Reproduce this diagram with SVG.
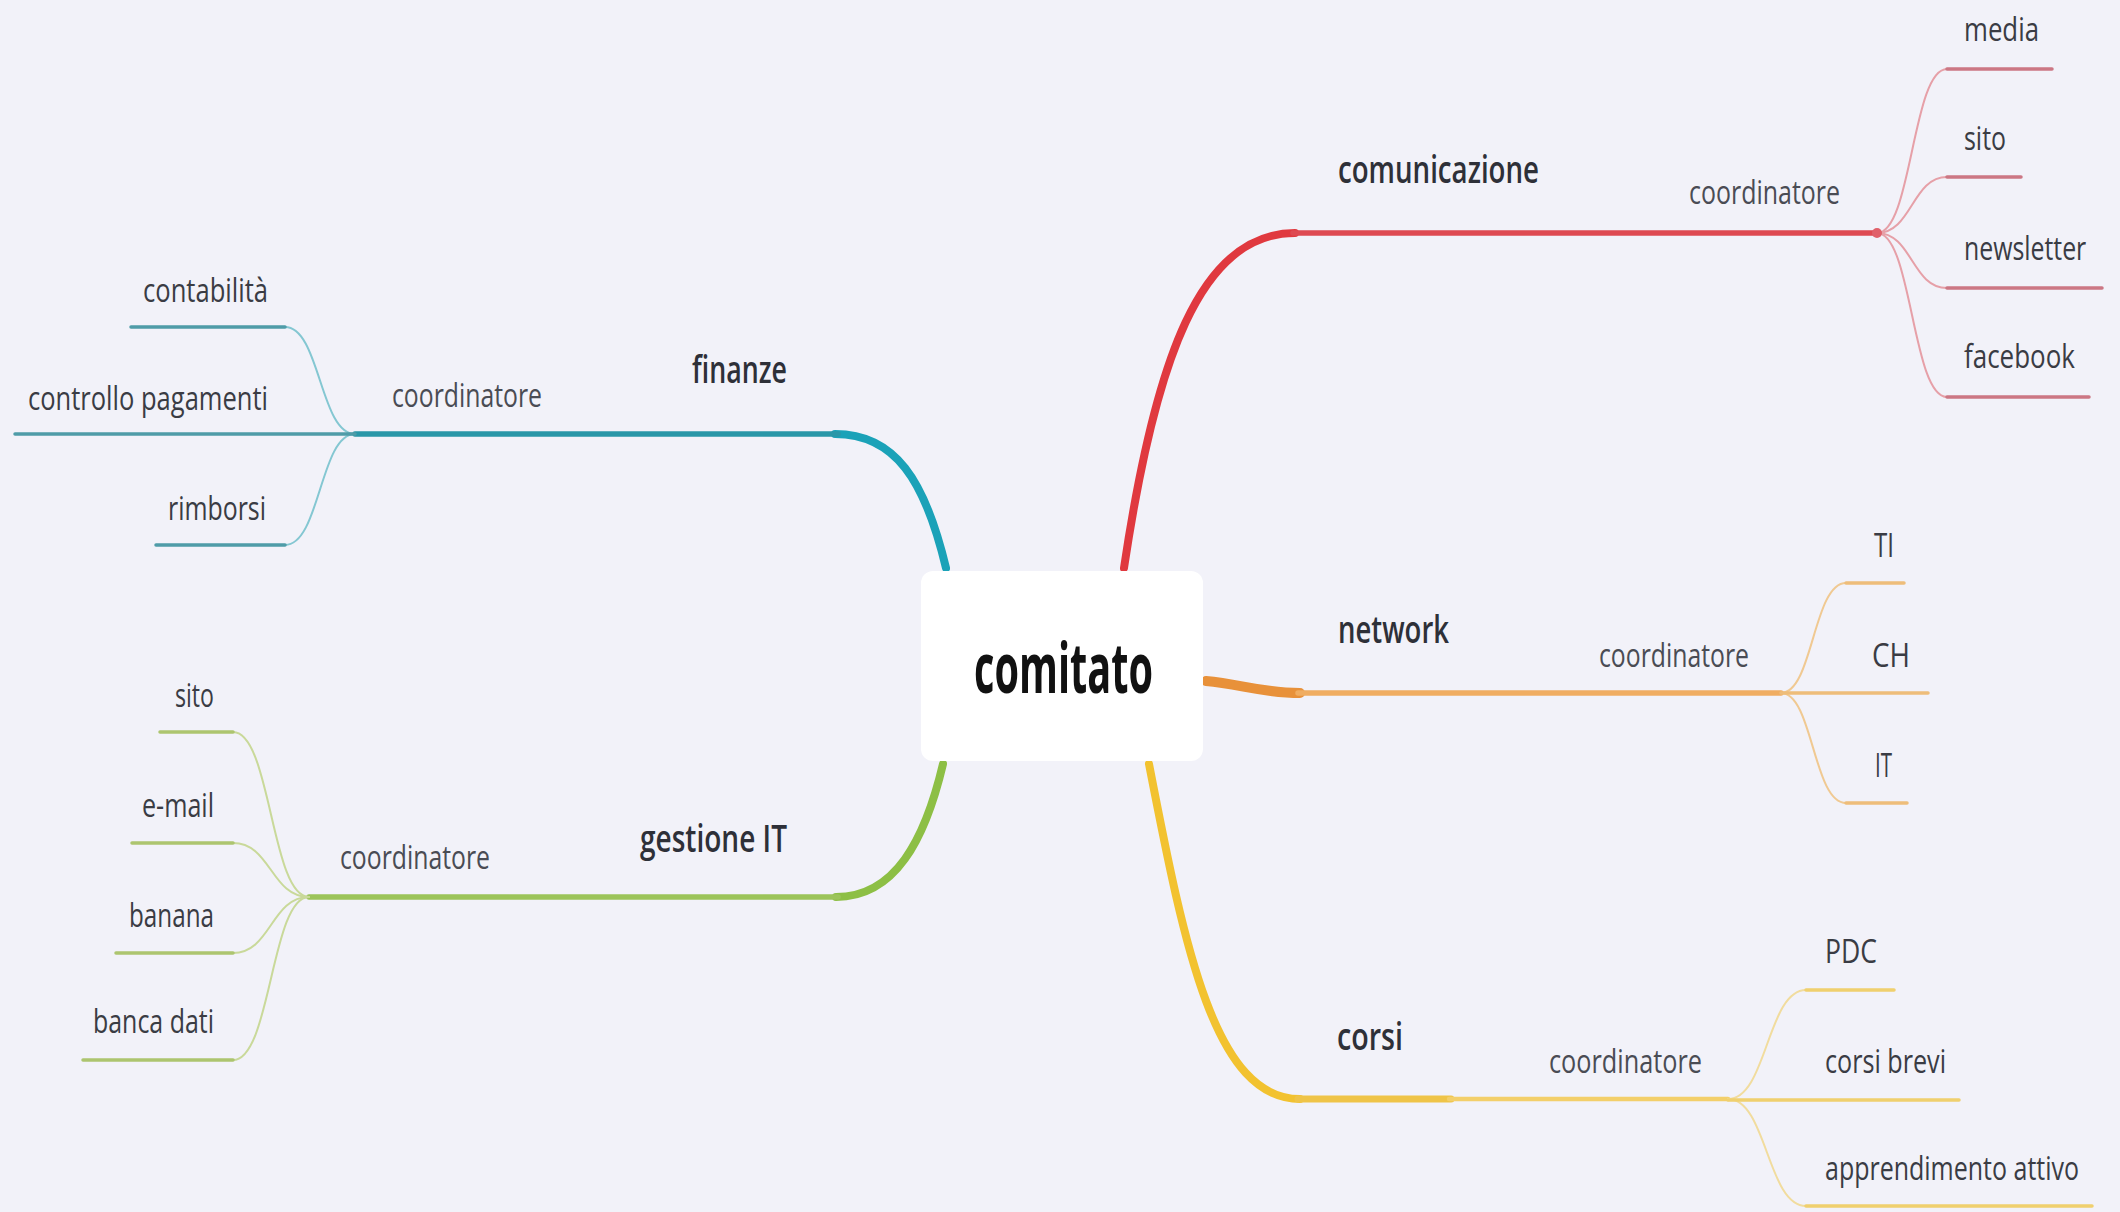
<svg xmlns="http://www.w3.org/2000/svg" width="2120" height="1212" viewBox="0 0 2120 1212">
<style>
.bg{fill:#f2f2f9}
.t{font-family:"Open Sans","Liberation Sans",sans-serif;fill:#3a3c44}
.child{font-size:33px;font-weight:400}
.coord{font-size:33px;font-weight:400;fill:#4a4c54}
.branch{font-size:37px;font-weight:600;fill:#2e3038}
.center{font-size:70px;font-weight:700;fill:#111}
.main{fill:none;stroke-linecap:round}
.sub{fill:none;stroke-width:2;stroke-linecap:round}
.ul{fill:none;stroke-width:3.5;stroke-linecap:round}
</style>
<rect class="bg" x="0" y="0" width="2120" height="1212"/>
<g id="connectors">
  <!-- red / comunicazione -->
  <path class="main" d="M1124,568 C1155,360 1200,233 1295,233" stroke="#e0393f" stroke-width="8"/>
  <path class="main" d="M1293,233 L1877,233" stroke="#de4a52" stroke-width="5.5"/>
  <g stroke="#e6a0a8">
    <path class="sub" d="M1877,233 C1912,233 1912,69 1947,69"/>
    <path class="sub" d="M1877,233 C1912,233 1912,177 1947,177"/>
    <path class="sub" d="M1877,233 C1912,233 1912,288 1947,288"/>
    <path class="sub" d="M1877,233 C1912,233 1912,397 1947,397"/>
  </g>
  <g stroke="#cc7784">
    <path class="ul" d="M1947,69 L2052,69"/>
    <path class="ul" d="M1947,177 L2021,177"/>
    <path class="ul" d="M1947,288 L2102,288"/>
    <path class="ul" d="M1947,397 L2089,397"/>
  </g>
  <circle cx="1877" cy="233" r="5" fill="#e0606a"/>
  <!-- blue / finanze -->
  <path class="main" d="M946,568 C925,480 895,434 835,434" stroke="#1ba2b8" stroke-width="8"/>
  <path class="main" d="M838,434 L355,434" stroke="#2a97a8" stroke-width="5.5"/>
  <g stroke="#84c7d2">
    <path class="sub" d="M355,434 C320,434 320,327 285,327"/>
    <path class="sub" d="M355,434 C320,434 320,545 285,545"/>
  </g>
  <g stroke="#4f9ca8">
    <path class="ul" d="M285,327 L131,327"/>
    <path class="ul" d="M355,434 L15,434"/>
    <path class="ul" d="M285,545 L156,545"/>
  </g>
  <!-- green / gestione IT -->
  <path class="main" d="M943,764 C925,840 895,897 836,897" stroke="#8dbf45" stroke-width="8"/>
  <path class="main" d="M838,897 L309,897" stroke="#9cc45a" stroke-width="5.5"/>
  <g stroke="#c9d99a">
    <path class="sub" d="M309,897 C271,897 271,732 233,732"/>
    <path class="sub" d="M309,897 C271,897 271,843 233,843"/>
    <path class="sub" d="M309,897 C271,897 271,953 233,953"/>
    <path class="sub" d="M309,897 C271,897 271,1060 233,1060"/>
  </g>
  <g stroke="#adc56f">
    <path class="ul" d="M233,732 L160,732"/>
    <path class="ul" d="M233,843 L132,843"/>
    <path class="ul" d="M233,953 L116,953"/>
    <path class="ul" d="M233,1060 L83,1060"/>
  </g>
  <!-- orange / network -->
  <path class="main" d="M1206,681 C1240,684 1262,693 1300,693" stroke="#e8913a" stroke-width="10"/>
  <path class="main" d="M1298,693 L1781,693" stroke="#f0ad62" stroke-width="5.5"/>
  <g stroke="#f0c992">
    <path class="sub" d="M1781,693 C1813,693 1813,583 1846,583"/>
    <path class="sub" d="M1781,693 C1813,693 1813,803 1846,803"/>
  </g>
  <g stroke="#eebd7a">
    <path class="ul" d="M1846,583 L1904,583"/>
    <path class="ul" d="M1781,693 L1928,693"/>
    <path class="ul" d="M1846,803 L1907,803"/>
  </g>
  <!-- yellow / corsi -->
  <path class="main" d="M1149,764 C1185,950 1215,1099 1300,1099" stroke="#f2c230" stroke-width="8"/>
  <path class="main" d="M1298,1099 L1451,1099" stroke="#efc448" stroke-width="7"/>
  <path class="main" d="M1449,1099 L1728,1099" stroke="#f3cf6a" stroke-width="4.5"/>
  <g stroke="#f1dc9e">
    <path class="sub" d="M1728,1099 C1767,1099 1767,990 1806,990"/>
    <path class="sub" d="M1728,1099 C1767,1099 1767,1206 1806,1206"/>
  </g>
  <g stroke="#f0d06e">
    <path class="ul" d="M1806,990 L1894,990"/>
    <path class="ul" d="M1728,1100 L1959,1100"/>
    <path class="ul" d="M1806,1206 L2092,1206"/>
  </g>
</g>
<g id="node-comitato">
  <rect x="921" y="571" width="282" height="190" rx="12" fill="#ffffff"/>
  <text class="t center" x="974" y="693" textLength="179" lengthAdjust="spacingAndGlyphs">comitato</text>
</g>
<g id="node-comunicazione">
  <text class="t branch" x="1338" y="183" textLength="201" lengthAdjust="spacingAndGlyphs">comunicazione</text>
  <text class="t coord" x="1689" y="204" textLength="151" lengthAdjust="spacingAndGlyphs">coordinatore</text>
</g>
<g id="node-media"><text class="t child" x="1964" y="41" textLength="75" lengthAdjust="spacingAndGlyphs">media</text></g>
<g id="node-sito-com"><text class="t child" x="1964" y="150" textLength="42" lengthAdjust="spacingAndGlyphs">sito</text></g>
<g id="node-newsletter"><text class="t child" x="0" y="0" transform="translate(1964,260) scale(0.75,1)" textLength="163" lengthAdjust="spacingAndGlyphs">newsletter</text></g>
<g id="node-facebook"><text class="t child" x="1964" y="368" textLength="111" lengthAdjust="spacingAndGlyphs">facebook</text></g>
<g id="node-finanze">
  <text class="t branch" x="692" y="383" textLength="95" lengthAdjust="spacingAndGlyphs">finanze</text>
  <text class="t coord" x="392" y="407" textLength="150" lengthAdjust="spacingAndGlyphs">coordinatore</text>
</g>
<g id="node-contabilita"><text class="t child" x="143" y="302" textLength="125" lengthAdjust="spacingAndGlyphs">contabilità</text></g>
<g id="node-controllo"><text class="t child" x="28" y="410" textLength="240" lengthAdjust="spacingAndGlyphs">controllo pagamenti</text></g>
<g id="node-rimborsi"><text class="t child" x="168" y="520" textLength="98" lengthAdjust="spacingAndGlyphs">rimborsi</text></g>
<g id="node-gestione">
  <text class="t branch" x="640" y="852" textLength="147" lengthAdjust="spacingAndGlyphs">gestione IT</text>
  <text class="t coord" x="340" y="869" textLength="150" lengthAdjust="spacingAndGlyphs">coordinatore</text>
</g>
<g id="node-sito-it"><text class="t child" x="175" y="707" textLength="39" lengthAdjust="spacingAndGlyphs">sito</text></g>
<g id="node-email"><text class="t child" x="142" y="817" textLength="72" lengthAdjust="spacingAndGlyphs">e-mail</text></g>
<g id="node-banana"><text class="t child" x="129" y="927" textLength="85" lengthAdjust="spacingAndGlyphs">banana</text></g>
<g id="node-banca"><text class="t child" x="93" y="1033" textLength="121" lengthAdjust="spacingAndGlyphs">banca dati</text></g>
<g id="node-network">
  <text class="t branch" x="1338" y="643" textLength="111" lengthAdjust="spacingAndGlyphs">network</text>
  <text class="t coord" x="1599" y="667" textLength="150" lengthAdjust="spacingAndGlyphs">coordinatore</text>
</g>
<g id="node-TI"><text class="t child" x="1874" y="557" textLength="20" lengthAdjust="spacingAndGlyphs">TI</text></g>
<g id="node-CH"><text class="t child" x="1872" y="667" textLength="38" lengthAdjust="spacingAndGlyphs">CH</text></g>
<g id="node-IT"><text class="t child" x="1875" y="777" textLength="17" lengthAdjust="spacingAndGlyphs">IT</text></g>
<g id="node-corsi">
  <text class="t branch" x="1337" y="1050" textLength="66" lengthAdjust="spacingAndGlyphs">corsi</text>
  <text class="t coord" x="1549" y="1073" textLength="153" lengthAdjust="spacingAndGlyphs">coordinatore</text>
</g>
<g id="node-PDC"><text class="t child" x="1825" y="963" textLength="52" lengthAdjust="spacingAndGlyphs">PDC</text></g>
<g id="node-corsibrevi"><text class="t child" x="1825" y="1073" textLength="121" lengthAdjust="spacingAndGlyphs">corsi brevi</text></g>
<g id="node-apprendimento"><text class="t child" x="0" y="0" transform="translate(1825,1180) scale(0.73,1)" textLength="348" lengthAdjust="spacingAndGlyphs">apprendimento attivo</text></g>
</svg>
